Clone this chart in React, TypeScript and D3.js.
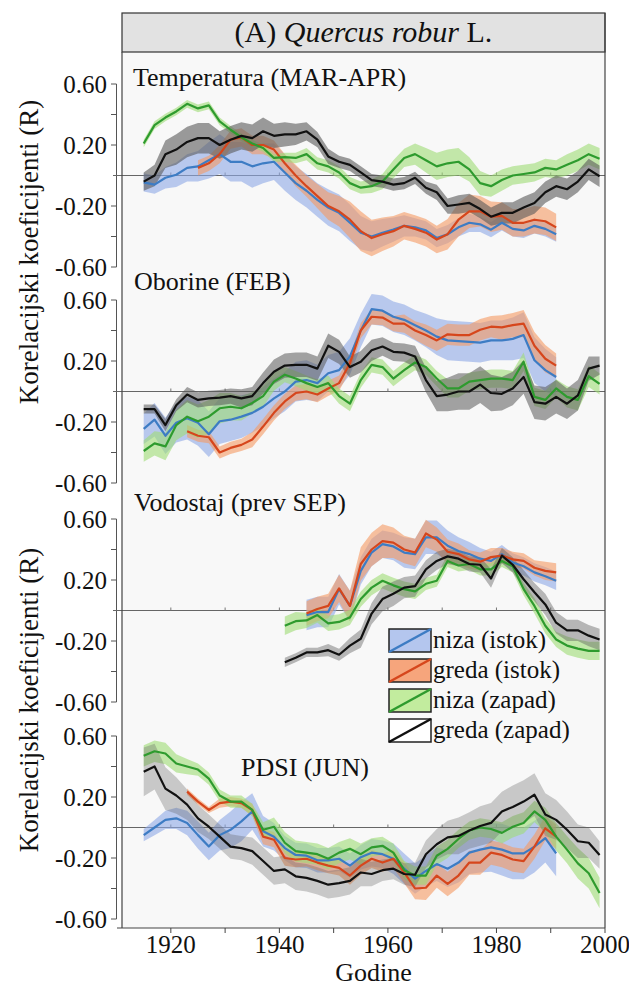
import React from 'react';
import * as d3 from 'd3';

// ---------- data ----------
const YEARS = [1915, 1917, 1919, 1921, 1923, 1925, 1927, 1929, 1931, 1933, 1935, 1937, 1939, 1941, 1943, 1945, 1947, 1949, 1951, 1953, 1955, 1957, 1959, 1961, 1963, 1965, 1967, 1969, 1971, 1973, 1975, 1977, 1979, 1981, 1983, 1985, 1987, 1989, 1991, 1993, 1995, 1997, 1999];
const SERIES_NAMES = ['niza (istok)', 'greda (istok)', 'niza (zapad)', 'greda (zapad)'];
const PANEL_LABELS = ['Temperatura (MAR-APR)', 'Oborine (FEB)', 'Vodostaj (prev SEP)', 'PDSI (JUN)'];
const Y_TICKS = [0.6, 0.4, 0.2, -0.2, -0.4, -0.6];
const Y_LABELS = [0.6, 0.2, -0.2, -0.6];
const X_TICKS = [1920, 1930, 1940, 1950, 1960, 1970, 1980, 1990, 2000];
const X_LABELS = [1920, 1940, 1960, 1980, 2000];
const N = null;

// Temperatura (MAR-APR)
const T_NI = [-0.045, -0.06, -0.015, 0.005, 0.05, 0.06, 0.10, 0.14, 0.09, 0.09, 0.06, 0.08, 0.09, 0.02, -0.05, -0.10, -0.16, -0.21, -0.245, -0.31, -0.375, -0.40, -0.375, -0.355, -0.33, -0.34, -0.36, -0.41, -0.385, -0.34, -0.31, -0.32, -0.355, -0.31, -0.35, -0.36, -0.33, -0.35, -0.385, N, N, N, N];
const T_GI = [N, N, N, N, N, 0.05, 0.08, 0.14, 0.235, 0.25, 0.20, 0.20, 0.17, 0.08, 0.0, -0.07, -0.135, -0.20, -0.235, -0.29, -0.365, -0.41, -0.385, -0.365, -0.33, -0.35, -0.375, -0.42, -0.385, -0.29, -0.235, -0.235, -0.27, -0.265, -0.31, -0.31, -0.29, -0.30, -0.34, N, N, N, N];
const T_NZ = [0.21, 0.33, 0.38, 0.42, 0.47, 0.44, 0.46, 0.355, 0.30, 0.25, 0.21, 0.18, 0.115, 0.12, 0.115, 0.14, 0.08, 0.06, 0.02, -0.05, -0.08, -0.07, -0.04, 0.04, 0.115, 0.14, 0.10, 0.06, 0.08, 0.09, 0.04, -0.05, -0.07, -0.03, 0.0, 0.01, 0.02, 0.05, 0.04, 0.07, 0.10, 0.14, 0.11];
const T_GZ = [-0.04, 0.0, 0.14, 0.17, 0.22, 0.245, 0.245, 0.20, 0.235, 0.26, 0.245, 0.29, 0.26, 0.27, 0.27, 0.29, 0.235, 0.125, 0.09, 0.07, 0.02, -0.03, -0.04, -0.06, -0.05, -0.015, -0.08, -0.11, -0.20, -0.19, -0.18, -0.22, -0.27, -0.245, -0.245, -0.21, -0.18, -0.11, -0.07, -0.09, -0.04, 0.04, -0.005];
const T_NI_CI = [0.06, 0.06, 0.07, 0.08, 0.09, 0.10, 0.12, 0.13, 0.13, 0.13, 0.14, 0.13, 0.12, 0.12, 0.11, 0.11, 0.11, 0.12, 0.12, 0.12, 0.11, 0.10, 0.09, 0.08, 0.07, 0.06, 0.06, 0.06, 0.06, 0.06, 0.06, 0.05, 0.05, 0.05, 0.05, 0.05, 0.05, 0.05, 0.05, 0, 0, 0, 0];
const T_GI_CI = [0, 0, 0, 0, 0, 0.05, 0.05, 0.06, 0.06, 0.06, 0.06, 0.06, 0.06, 0.06, 0.07, 0.07, 0.08, 0.09, 0.10, 0.12, 0.13, 0.12, 0.11, 0.10, 0.09, 0.09, 0.09, 0.09, 0.10, 0.11, 0.11, 0.10, 0.10, 0.09, 0.09, 0.09, 0.09, 0.09, 0.09, 0, 0, 0, 0];
const T_NZ_CI = [0.025, 0.025, 0.025, 0.025, 0.025, 0.025, 0.025, 0.025, 0.025, 0.025, 0.025, 0.025, 0.025, 0.03, 0.035, 0.04, 0.04, 0.04, 0.04, 0.04, 0.04, 0.045, 0.05, 0.06, 0.06, 0.07, 0.08, 0.09, 0.09, 0.09, 0.08, 0.08, 0.07, 0.07, 0.06, 0.06, 0.06, 0.06, 0.06, 0.07, 0.07, 0.07, 0.07];
const T_GZ_CI = [0.06, 0.07, 0.09, 0.10, 0.10, 0.10, 0.10, 0.09, 0.09, 0.09, 0.09, 0.09, 0.08, 0.08, 0.07, 0.06, 0.05, 0.05, 0.04, 0.04, 0.04, 0.04, 0.04, 0.04, 0.04, 0.04, 0.04, 0.05, 0.05, 0.06, 0.06, 0.06, 0.06, 0.07, 0.07, 0.07, 0.07, 0.07, 0.07, 0.07, 0.07, 0.07, 0.07];

// Oborine (FEB)
const O_NI = [-0.245, -0.185, -0.29, -0.205, -0.175, -0.205, -0.28, -0.195, -0.185, -0.165, -0.14, -0.10, -0.045, 0.0, 0.065, 0.075, 0.055, 0.12, 0.14, 0.23, 0.40, 0.54, 0.53, 0.49, 0.47, 0.435, 0.40, 0.36, 0.335, 0.33, 0.325, 0.32, 0.335, 0.335, 0.345, 0.37, 0.205, 0.14, 0.095, N, N, N, N];
const O_GI = [N, N, N, N, -0.26, -0.29, -0.30, -0.40, -0.37, -0.35, -0.315, -0.23, -0.14, -0.065, -0.01, 0.0, -0.02, 0.02, 0.055, 0.185, 0.40, 0.49, 0.485, 0.445, 0.445, 0.40, 0.37, 0.335, 0.375, 0.37, 0.37, 0.405, 0.425, 0.42, 0.435, 0.445, 0.30, 0.215, 0.17, N, N, N, N];
const O_NZ = [-0.39, -0.34, -0.36, -0.22, -0.165, -0.195, -0.165, -0.11, -0.10, -0.11, -0.075, -0.03, 0.065, 0.11, 0.085, 0.055, 0.03, 0.055, -0.03, -0.08, 0.075, 0.175, 0.16, 0.085, 0.14, 0.19, 0.16, 0.085, 0.02, 0.02, 0.065, 0.075, 0.085, 0.085, 0.075, 0.195, -0.035, -0.055, 0.02, -0.035, -0.055, 0.10, 0.05];
const O_GZ = [-0.115, -0.115, -0.22, -0.09, -0.02, -0.055, -0.045, -0.04, -0.03, -0.045, -0.03, 0.055, 0.13, 0.17, 0.175, 0.175, 0.15, 0.30, 0.26, 0.16, 0.195, 0.27, 0.295, 0.26, 0.255, 0.23, 0.075, -0.03, -0.02, 0.0, 0.0, 0.045, -0.01, -0.015, 0.02, 0.095, -0.07, -0.08, -0.035, -0.08, -0.025, 0.15, 0.17];
const O_NI_CI = [0.10, 0.11, 0.12, 0.13, 0.14, 0.15, 0.15, 0.15, 0.14, 0.14, 0.13, 0.13, 0.13, 0.13, 0.13, 0.13, 0.12, 0.12, 0.12, 0.12, 0.11, 0.10, 0.10, 0.10, 0.10, 0.10, 0.11, 0.12, 0.13, 0.13, 0.13, 0.13, 0.13, 0.13, 0.14, 0.15, 0.15, 0.14, 0.13, 0, 0, 0, 0];
const O_GI_CI = [0, 0, 0, 0, 0.04, 0.04, 0.04, 0.04, 0.04, 0.04, 0.05, 0.05, 0.05, 0.05, 0.05, 0.05, 0.05, 0.05, 0.05, 0.05, 0.05, 0.05, 0.05, 0.05, 0.06, 0.06, 0.07, 0.07, 0.07, 0.07, 0.07, 0.07, 0.07, 0.08, 0.08, 0.09, 0.09, 0.09, 0.08, 0, 0, 0, 0];
const O_NZ_CI = [0.07, 0.08, 0.09, 0.10, 0.11, 0.11, 0.11, 0.10, 0.09, 0.08, 0.07, 0.07, 0.06, 0.05, 0.05, 0.05, 0.05, 0.05, 0.05, 0.05, 0.05, 0.05, 0.05, 0.05, 0.05, 0.05, 0.05, 0.05, 0.06, 0.06, 0.06, 0.06, 0.06, 0.06, 0.06, 0.06, 0.06, 0.06, 0.06, 0.07, 0.07, 0.07, 0.07];
const O_GZ_CI = [0.03, 0.03, 0.04, 0.04, 0.05, 0.05, 0.05, 0.05, 0.05, 0.06, 0.06, 0.07, 0.08, 0.08, 0.08, 0.08, 0.08, 0.08, 0.08, 0.07, 0.07, 0.07, 0.06, 0.06, 0.06, 0.07, 0.08, 0.10, 0.11, 0.12, 0.12, 0.12, 0.12, 0.11, 0.11, 0.11, 0.11, 0.11, 0.11, 0.10, 0.10, 0.08, 0.06];

// Vodostaj (prev SEP)
const V_NI = [N, N, N, N, N, N, N, N, N, N, N, N, N, N, N, -0.03, -0.01, -0.01, 0.14, 0.03, 0.26, 0.38, 0.435, 0.42, 0.38, 0.37, 0.48, 0.48, 0.425, 0.39, 0.37, 0.34, 0.325, 0.37, 0.315, 0.29, 0.25, 0.225, 0.195, N, N, N, N];
const V_GI = [N, N, N, N, N, N, N, N, N, N, N, N, N, N, N, -0.02, 0.01, 0.03, 0.145, 0.03, 0.305, 0.40, 0.455, 0.445, 0.40, 0.38, 0.505, 0.465, 0.385, 0.37, 0.335, 0.32, 0.35, 0.36, 0.335, 0.325, 0.28, 0.26, 0.25, N, N, N, N];
const V_NZ = [N, N, N, N, N, N, N, N, N, N, N, N, N, -0.10, -0.07, -0.065, -0.03, -0.085, -0.075, -0.045, 0.075, 0.15, 0.195, 0.165, 0.14, 0.125, 0.175, 0.195, 0.325, 0.295, 0.305, 0.27, 0.27, 0.325, 0.29, 0.14, 0.03, -0.10, -0.19, -0.23, -0.25, -0.265, -0.265];
const V_GZ = [N, N, N, N, N, N, N, N, N, N, N, N, N, -0.34, -0.31, -0.275, -0.275, -0.26, -0.29, -0.23, -0.185, -0.02, 0.075, 0.11, 0.15, 0.16, 0.27, 0.325, 0.355, 0.34, 0.305, 0.30, 0.21, 0.36, 0.30, 0.205, 0.12, 0.04, -0.08, -0.13, -0.13, -0.165, -0.19];
const V_NI_CI = [0, 0, 0, 0, 0, 0, 0, 0, 0, 0, 0, 0, 0, 0, 0, 0.10, 0.10, 0.10, 0.10, 0.10, 0.09, 0.09, 0.09, 0.09, 0.10, 0.10, 0.11, 0.11, 0.10, 0.09, 0.08, 0.07, 0.06, 0.06, 0.06, 0.06, 0.06, 0.06, 0.06, 0, 0, 0, 0];
const V_GI_CI = [0, 0, 0, 0, 0, 0, 0, 0, 0, 0, 0, 0, 0, 0, 0, 0.08, 0.08, 0.08, 0.09, 0.10, 0.11, 0.11, 0.11, 0.10, 0.09, 0.09, 0.09, 0.08, 0.08, 0.07, 0.06, 0.06, 0.06, 0.05, 0.05, 0.05, 0.05, 0.06, 0.06, 0, 0, 0, 0];
const V_NZ_CI = [0, 0, 0, 0, 0, 0, 0, 0, 0, 0, 0, 0, 0, 0.06, 0.06, 0.05, 0.05, 0.05, 0.05, 0.05, 0.05, 0.05, 0.05, 0.05, 0.05, 0.05, 0.04, 0.04, 0.04, 0.04, 0.04, 0.04, 0.04, 0.04, 0.04, 0.04, 0.05, 0.05, 0.05, 0.06, 0.06, 0.06, 0.06];
const V_GZ_CI = [0, 0, 0, 0, 0, 0, 0, 0, 0, 0, 0, 0, 0, 0.03, 0.03, 0.03, 0.03, 0.04, 0.04, 0.05, 0.06, 0.07, 0.08, 0.08, 0.07, 0.07, 0.06, 0.06, 0.05, 0.05, 0.05, 0.05, 0.06, 0.05, 0.05, 0.06, 0.06, 0.07, 0.07, 0.07, 0.07, 0.07, 0.07];

// PDSI (JUN)
const P_NI = [-0.05, 0.0, 0.05, 0.06, 0.03, -0.05, -0.125, -0.05, -0.015, 0.04, 0.105, -0.025, -0.06, -0.135, -0.18, -0.185, -0.215, -0.215, -0.205, -0.25, -0.195, -0.165, -0.175, -0.205, -0.27, -0.335, -0.285, -0.24, -0.27, -0.23, -0.165, -0.145, -0.13, -0.145, -0.17, -0.17, -0.125, -0.07, -0.17, N, N, N, N];
const P_GI = [N, N, N, N, 0.235, 0.17, 0.115, 0.16, 0.17, 0.16, 0.115, -0.06, -0.08, -0.20, -0.21, -0.205, -0.23, -0.25, -0.265, -0.315, -0.25, -0.205, -0.23, -0.205, -0.295, -0.40, -0.395, -0.315, -0.37, -0.315, -0.23, -0.23, -0.165, -0.18, -0.21, -0.22, -0.125, -0.005, -0.06, N, N, N, N];
const P_NZ = [0.47, 0.50, 0.485, 0.42, 0.40, 0.38, 0.32, 0.21, 0.17, 0.17, 0.115, -0.015, 0.005, -0.10, -0.155, -0.165, -0.175, -0.205, -0.165, -0.14, -0.175, -0.13, -0.12, -0.165, -0.28, -0.315, -0.315, -0.185, -0.14, -0.075, -0.02, 0.0, -0.01, -0.035, 0.005, 0.03, 0.105, 0.05, -0.06, -0.145, -0.235, -0.30, -0.43];
const P_GZ = [0.365, 0.40, 0.255, 0.21, 0.15, 0.06, 0.005, -0.06, -0.125, -0.135, -0.155, -0.22, -0.285, -0.275, -0.32, -0.33, -0.35, -0.375, -0.365, -0.35, -0.295, -0.305, -0.28, -0.27, -0.305, -0.31, -0.175, -0.11, -0.065, -0.055, -0.02, 0.01, 0.03, 0.105, 0.135, 0.17, 0.215, 0.085, 0.05, -0.015, -0.09, -0.10, -0.18];
const P_NI_CI = [0.04, 0.05, 0.06, 0.07, 0.08, 0.09, 0.09, 0.10, 0.12, 0.13, 0.12, 0.10, 0.09, 0.08, 0.08, 0.08, 0.08, 0.08, 0.08, 0.08, 0.08, 0.09, 0.09, 0.10, 0.10, 0.10, 0.10, 0.11, 0.12, 0.13, 0.14, 0.15, 0.16, 0.17, 0.17, 0.17, 0.17, 0.16, 0.15, 0, 0, 0, 0];
const P_GI_CI = [0, 0, 0, 0, 0.02, 0.02, 0.02, 0.03, 0.03, 0.03, 0.04, 0.05, 0.05, 0.05, 0.05, 0.05, 0.05, 0.05, 0.05, 0.06, 0.06, 0.06, 0.06, 0.06, 0.07, 0.07, 0.08, 0.08, 0.08, 0.08, 0.08, 0.08, 0.08, 0.08, 0.08, 0.08, 0.08, 0.08, 0.08, 0, 0, 0, 0];
const P_NZ_CI = [0.07, 0.07, 0.07, 0.06, 0.05, 0.04, 0.04, 0.04, 0.04, 0.04, 0.04, 0.05, 0.06, 0.07, 0.07, 0.07, 0.07, 0.07, 0.07, 0.07, 0.07, 0.06, 0.06, 0.06, 0.06, 0.06, 0.06, 0.06, 0.06, 0.06, 0.06, 0.06, 0.06, 0.07, 0.07, 0.07, 0.07, 0.08, 0.09, 0.09, 0.10, 0.10, 0.10];
const P_GZ_CI = [0.16, 0.15, 0.14, 0.12, 0.10, 0.09, 0.08, 0.08, 0.08, 0.08, 0.09, 0.09, 0.09, 0.09, 0.09, 0.09, 0.09, 0.09, 0.09, 0.09, 0.09, 0.08, 0.07, 0.07, 0.07, 0.08, 0.09, 0.10, 0.11, 0.12, 0.12, 0.13, 0.13, 0.13, 0.14, 0.14, 0.14, 0.14, 0.13, 0.12, 0.11, 0.10, 0.09];

// ---------- styles ----------
const LINE_COLORS = ['#3d7cc4', '#d6461c', '#2e9b2e', '#111111'];
const BAND_COLORS = ['#8ea9e6', '#f59a62', '#9edc74', '#5a5a5a'];
const BAND_OPACITY = [0.6, 0.6, 0.6, 0.45];
const GRAY_BAND_OPACITY = [0.6, 0.55, 0.42, 0.3];
const SWATCH_FILL = ['#b4c6ee', '#f6a57c', '#c2ec9e', '#ffffff'];
const FONT = 'Liberation Serif';

const W = 629;
const H = 987;
const BOX_L = 122;
const BOX_R = 605;
const HEAD_T = 13;
const HEAD_B = 52;
const BOX_B = 928;
const PANEL_TOPS = [84, 300, 519, 736];
const PANEL_H = 183;
const LABEL_POS = [
  [133, 86],
  [134, 290],
  [134, 511],
  [241, 776],
];

const PANELS = [
  { label: PANEL_LABELS[0], series: [T_NI, T_GI, T_NZ, T_GZ], ci: [T_NI_CI, T_GI_CI, T_NZ_CI, T_GZ_CI] },
  { label: PANEL_LABELS[1], series: [O_NI, O_GI, O_NZ, O_GZ], ci: [O_NI_CI, O_GI_CI, O_NZ_CI, O_GZ_CI] },
  { label: PANEL_LABELS[2], series: [V_NI, V_GI, V_NZ, V_GZ], ci: [V_NI_CI, V_GI_CI, V_NZ_CI, V_GZ_CI] },
  { label: PANEL_LABELS[3], series: [P_NI, P_GI, P_NZ, P_GZ], ci: [P_NI_CI, P_GI_CI, P_NZ_CI, P_GZ_CI] },
];

const fmt = (v: number) => v.toFixed(2);

function T(props: { x: number; y: number; size: number; anchor?: string; dy?: string; transform?: string; children: React.ReactNode }) {
  return (
    <text
      x={props.x}
      y={props.y}
      dy={props.dy}
      transform={props.transform}
      textAnchor={props.anchor || 'start'}
      fontSize={props.size}
      fill="#111"
      style={{ fontFamily: FONT }}
    >
      {props.children}
    </text>
  );
}

export default function App() {
  const x = d3.scaleLinear().domain([1911, 2000]).range([BOX_L, BOX_R]);

  const panels = PANELS.map((p, pi) => {
    const top = PANEL_TOPS[pi];
    const y = d3.scaleLinear().domain([-0.6, 0.6]).range([top + PANEL_H, top]);
    type Pt = { yr: number; v: number | null; w: number };
    const line = d3
      .line<Pt>()
      .defined((d) => d.v != null)
      .x((d) => x(d.yr))
      .y((d) => y(d.v as number));
    const area = d3
      .area<Pt>()
      .defined((d) => d.v != null)
      .x((d) => x(d.yr))
      .y0((d) => y((d.v as number) - d.w))
      .y1((d) => y((d.v as number) + d.w));
    const pts = p.series.map((s, si) =>
      YEARS.map((yr, i) => ({ yr, v: s[i] ?? null, w: p.ci[si][i] ?? 0 }))
    );
    return (
      <g key={pi}>
        <line x1={116.5} x2={116.5} y1={y(0.6)} y2={y(-0.6)} stroke="#555" strokeWidth={1} />
        {Y_TICKS.map((t) => (
          <line key={t} x1={111} x2={116.5} y1={y(t)} y2={y(t)} stroke="#555" strokeWidth={1} />
        ))}
        {Y_LABELS.map((t) => (
          <T key={t} x={107} y={y(t)} dy="0.34em" anchor="end" size={25}>
            {fmt(t)}
          </T>
        ))}
        <line x1={113} x2={BOX_R} y1={y(0)} y2={y(0)} stroke="#666" strokeWidth={1} />
        {X_TICKS.filter((t) => t < 2000).map((t) => (
          <line key={t} x1={x(t)} x2={x(t)} y1={y(0)} y2={y(0) - 3} stroke="#777" strokeWidth={1} />
        ))}
        {pts.map((d, si) => (
          <path
            key={'b' + si}
            d={area(d) || ''}
            fill={BAND_COLORS[si]}
            fillOpacity={si === 3 ? GRAY_BAND_OPACITY[pi] : BAND_OPACITY[si]}
            stroke="none"
          />
        ))}
        {pts.map((d, si) => (
          <path key={'l' + si} d={line(d) || ''} fill="none" stroke={LINE_COLORS[si]} strokeWidth={2.2} strokeLinejoin="round" />
        ))}
        <T x={LABEL_POS[pi][0]} y={LABEL_POS[pi][1]} size={26}>
          {p.label}
        </T>
      </g>
    );
  });

  const legendX = 389;
  const legendY = 629;
  const legendStep = 30;

  return (
    <div>
      <svg width={W} height={H} style={{ position: 'absolute', left: 0, top: 0, background: '#fff' }}>
        <rect x={BOX_L} y={HEAD_B} width={BOX_R - BOX_L} height={BOX_B - HEAD_B} fill="#f8f8f8" stroke="none" />
        <rect x={BOX_L} y={HEAD_T} width={BOX_R - BOX_L} height={HEAD_B - HEAD_T} fill="#e2e2e2" stroke="#333" strokeWidth={1.2} />
        <T x={(BOX_L + BOX_R) / 2} y={42} anchor="middle" size={30}>
          <tspan>(A) </tspan>
          <tspan fontStyle="italic">Quercus robur</tspan>
          <tspan> L.</tspan>
        </T>

        {panels}

        <line x1={BOX_L} x2={BOX_L} y1={HEAD_B} y2={BOX_B} stroke="#444" strokeWidth={1.2} />
        <line x1={BOX_R} x2={BOX_R} y1={HEAD_T} y2={BOX_B} stroke="#444" strokeWidth={1.2} />

        <line x1={117} x2={BOX_R} y1={BOX_B} y2={BOX_B} stroke="#444" strokeWidth={1.2} />
        {X_TICKS.map((t) => (
          <line key={t} x1={x(t)} x2={x(t)} y1={BOX_B} y2={BOX_B + 5} stroke="#444" strokeWidth={1} />
        ))}
        {X_LABELS.map((t) => (
          <T key={t} x={x(t)} y={953} anchor="middle" size={25}>
            {t}
          </T>
        ))}
        <T x={(BOX_L + BOX_R) / 2 + 10} y={981} anchor="middle" size={26}>
          Godine
        </T>

        {[252, 700].map((cy) => (
          <T key={cy} x={0} y={0} transform={`translate(38, ${cy}) rotate(-90)`} anchor="middle" size={27}>
            Korelacijski koeficijenti (R)
          </T>
        ))}

        {SERIES_NAMES.map((name, i) => {
          const yy = legendY + i * legendStep;
          return (
            <g key={name}>
              <rect x={legendX} y={yy} width={42} height={23} fill={SWATCH_FILL[i]} stroke="#222" strokeWidth={1.5} />
              <line x1={legendX} y1={yy + 23} x2={legendX + 42} y2={yy} stroke={LINE_COLORS[i]} strokeWidth={2.5} />
              <T x={legendX + 44} y={yy + 19} size={25}>
                {name}
              </T>
            </g>
          );
        })}
      </svg>
    </div>
  );
}
